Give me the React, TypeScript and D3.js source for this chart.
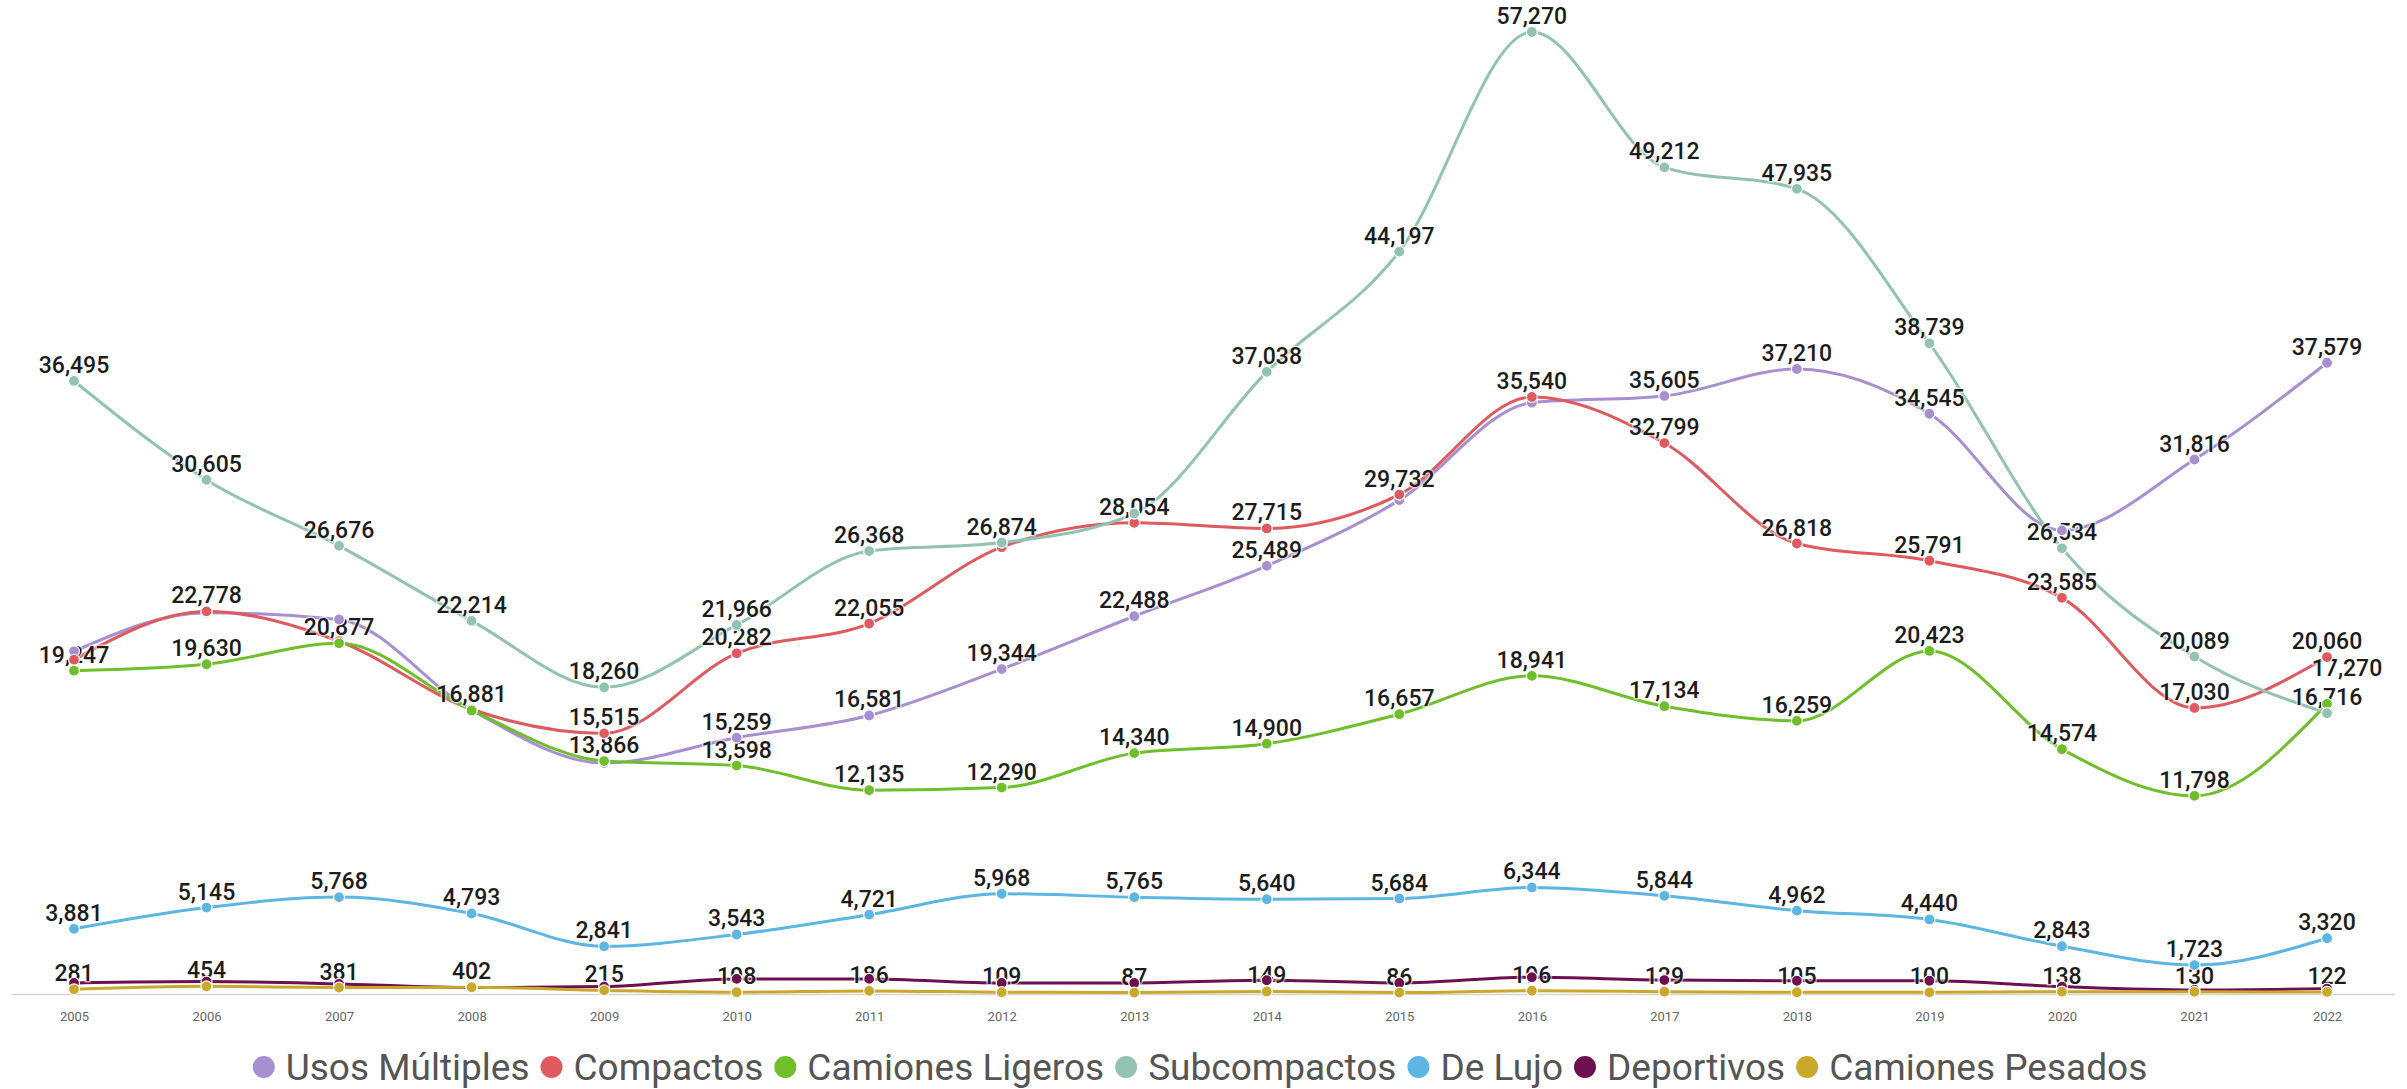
import React, { useEffect, useRef } from "react";
import * as d3 from "d3";

const years = ["2005","2006","2007","2008","2009","2010","2011","2012","2013","2014","2015","2016","2017","2018","2019","2020","2021","2022"];

const seriesNames = ["Usos Múltiples","Compactos","Camiones Ligeros","Subcompactos","De Lujo","Deportivos","Camiones Pesados"];

const usosMultiples = [20400, 22700, 22300, 16900, 13750, 15259, 16581, 19344, 22488, 25489, 29400, 35200, 35605, 37210, 34545, 27600, 31816, 37579];
const compactos = [19900, 22778, 21000, 16950, 15515, 20282, 22055, 26600, 28054, 27715, 29732, 35540, 32799, 26818, 25791, 23585, 17030, 20060];
const camionesLigeros = [19247, 19630, 20877, 16881, 13866, 13598, 12135, 12290, 14340, 14900, 16657, 18941, 17134, 16259, 20423, 14574, 11798, 17270];
const subcompactos = [36495, 30605, 26676, 22214, 18260, 21966, 26368, 26874, 28600, 37038, 44197, 57270, 49212, 47935, 38739, 26534, 20089, 16716];
const deLujo = [3881, 5145, 5768, 4793, 2841, 3543, 4721, 5968, 5765, 5640, 5684, 6344, 5844, 4962, 4440, 2843, 1723, 3320];
const deportivos = [660, 740, 600, 380, 440, 900, 900, 660, 660, 820, 660, 1000, 830, 790, 790, 440, 240, 320];
const camionesPesados = [281, 454, 381, 402, 215, 108, 186, 109, 87, 149, 86, 196, 139, 105, 100, 138, 130, 122];

const seriesValues = [usosMultiples, compactos, camionesLigeros, subcompactos, deLujo, deportivos, camionesPesados];

// labels not shown in the original (overlapping), as "seriesIndex:year"
const hiddenLabels = new Set([
  "0:2005","0:2006","0:2007","0:2008","0:2009","0:2015","0:2016","0:2020",
  "1:2005","1:2007","1:2008","1:2012",
  "3:2013",
  ...years.map((y) => "5:" + y),
]);

const colors = ["#a78fd0", "#de5a5f", "#6fbf2b", "#92c3b2", "#5cb5e3", "#6e0f4f", "#c9a82c"];
const labelNudges: Record<string, [number, number]> = { "2:2022": [20, -20] };

const W = 2407;
const H = 1089;

export default function App() {
  const ref = useRef<SVGSVGElement>(null);
  useEffect(() => {
    const svg = d3.select(ref.current);
    svg.selectAll("*").remove();

    const x = d3.scalePoint<string>().domain(years).range([74, 2327]);
    const maxV = d3.max(seriesValues.flat()) as number;
    const y = d3.scaleLinear().domain([0, maxV]).range([994, 32]);
    const fmt = d3.format(",");

    // axis line
    svg.append("line").attr("x1", 12).attr("x2", 2395).attr("y1", y(0) + 0.5).attr("y2", y(0) + 0.5)
      .attr("stroke", "#d4d4d4").attr("stroke-width", 1.5);

    const axisG = svg.append("g").attr("transform", `translate(0,${y(0)})`);
    const axis = d3.axisBottom(x).tickSize(0).tickPadding(18);
    axisG.call(axis as any);
    axisG.select(".domain").remove();
    axisG.selectAll("text").attr("font-family", "Roboto, sans-serif").attr("font-size", 13).attr("fill", "#666");

    const line = d3.line<number>().x((_, i) => x(years[i]) as number).y((d) => y(d)).curve(d3.curveMonotoneX);

    const linesG = svg.append("g");
    const labelsG = svg.append("g");
    const dotsG = svg.append("g");

    seriesValues.forEach((vals, si) => {
      linesG.append("path").datum(vals).attr("d", line as any).attr("fill", "none")
        .attr("stroke", colors[si]).attr("stroke-width", 3).attr("stroke-linejoin", "round");
      dotsG.selectAll(null).data(vals).enter().append("circle")
        .attr("cx", (_, i) => x(years[i]) as number).attr("cy", (d) => y(d)).attr("r", 5.5)
        .attr("fill", colors[si]).attr("stroke", "#fff").attr("stroke-width", 1.2);
      vals.forEach((v, i) => {
        const key = si + ":" + years[i];
        if (hiddenLabels.has(key)) return;
        const n = labelNudges[key] || [0, 0];
        labelsG.append("text")
          .attr("x", (x(years[i]) as number) + n[0]).attr("y", y(v) - 8 + n[1])
          .attr("text-anchor", "middle").attr("font-family", "Roboto, sans-serif").attr("font-size", 23)
          .attr("font-weight", 500).attr("fill", "#1c1c1c")
          .attr("stroke", "rgba(255,255,255,0.55)").attr("stroke-width", 3).attr("paint-order", "stroke")
          .text(fmt(v));
      });
    });

    // legend
    const legendG = svg.append("g");
    const fs = 37;
    const r = 11;
    const gapText = 22;
    const gapItem = 11;
    let cx = 0;
    seriesNames.forEach((name, si) => {
      const g = legendG.append("g");
      g.append("circle").attr("cx", cx + r).attr("cy", 0).attr("r", r).attr("fill", colors[si]);
      const t = g.append("text").attr("x", cx + r + gapText).attr("y", 0).attr("dy", "0.35em")
        .attr("font-family", "Roboto, sans-serif").attr("font-size", fs).attr("fill", "#555").text(name);
      const tw = (t.node() as SVGTextElement).getComputedTextLength();
      cx = cx + r + gapText + tw + gapItem;
    });
    const totalW = cx - gapItem;
    legendG.attr("transform", `translate(${1200 - totalW / 2},1067)`);
  }, []);
  return (
    <svg ref={ref} width={W} height={H} style={{ position: "absolute", left: 0, top: 0, background: "#fff" }} />
  );
}
